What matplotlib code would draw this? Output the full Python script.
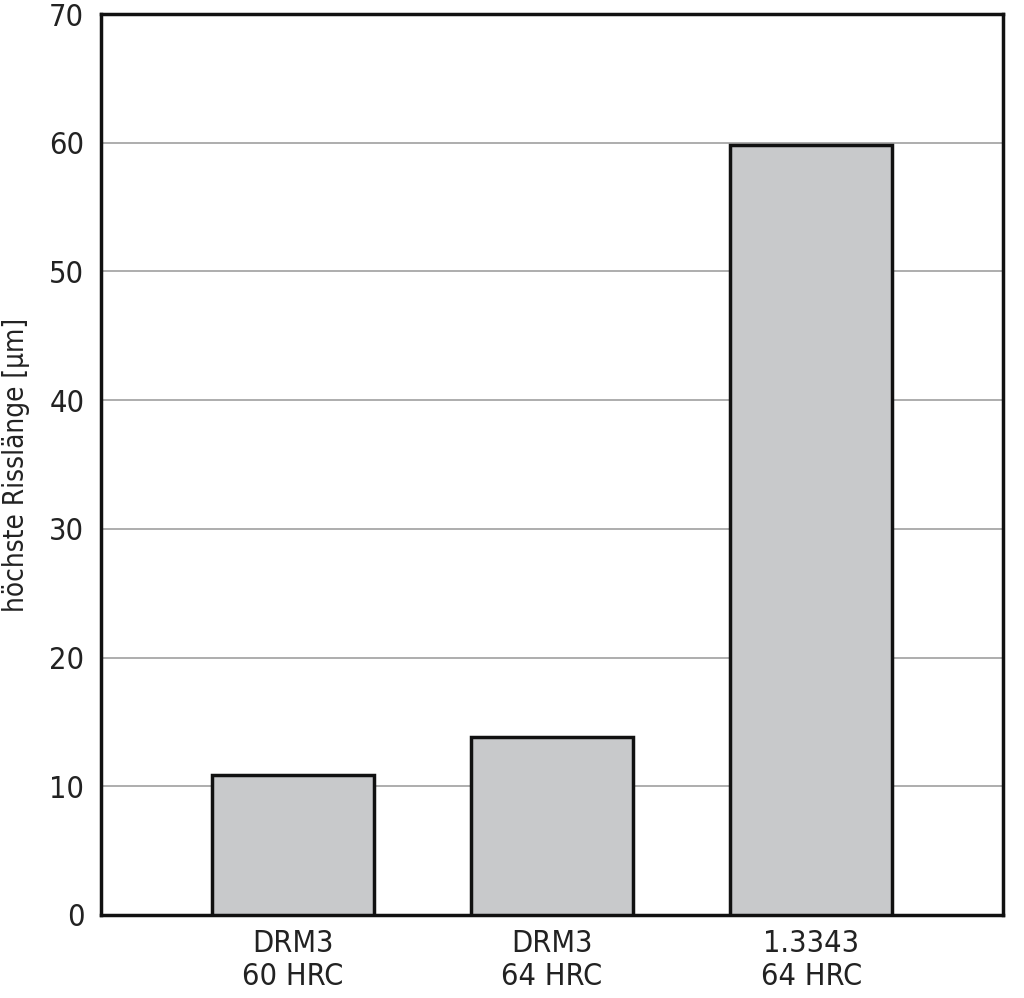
import matplotlib
matplotlib.use("Agg")
import matplotlib.pyplot as plt

plt.rcParams['font.family'] = ['DejaVu Sans']
plt.rcParams['font.stretch'] = 'condensed'

categories = ["DRM3\n60 HRC", "DRM3\n64 HRC", "1.3343\n64 HRC"]
values = [10.9, 13.8, 59.8]
yticks = [0, 10, 20, 30, 40, 50, 60, 70]

fig = plt.figure(figsize=(10.24, 9.98), dpi=100)
ax = fig.add_axes([101 / 1024, 1 - 915 / 998, 902 / 1024, 901 / 998])

xs = range(len(categories))
ax.bar(xs, values, width=0.625, color="#c8c9cb", edgecolor="#111111",
       linewidth=2.5, zorder=3)

ax.set_xlim(-0.74, 2.74)
ax.set_ylim(0, 70)
ax.set_yticks(yticks)
ax.set_xticks(list(xs))
ax.set_xticklabels(categories, fontsize=22, color="#222222", linespacing=1.2)
ax.tick_params(axis="y", labelsize=22, labelcolor="#222222", length=0, pad=12)
ax.tick_params(axis="x", length=0, pad=10)
ax.yaxis.grid(True, color="#a0a0a0", linewidth=1.2, zorder=0)
ax.set_ylabel("höchste Risslänge [µm]", fontsize=20, color="#222222", labelpad=14)

for s in ax.spines.values():
    s.set_linewidth(2.5)
    s.set_color("#111111")

fig.savefig("out.png", dpi=100)
